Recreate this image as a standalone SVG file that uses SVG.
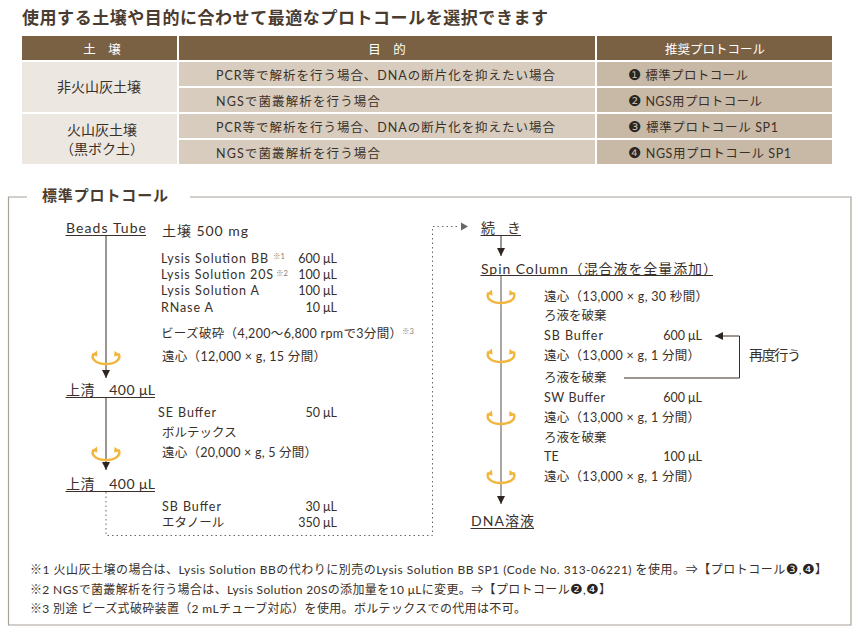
<svg xmlns="http://www.w3.org/2000/svg" xmlns:xlink="http://www.w3.org/1999/xlink" width="860" height="635" viewBox="0 0 860 635">
<style>
text{font-family:"Lato","Noto Sans CJK JP",sans-serif;font-size:12.5px;fill:#3a3029}
.t{fill:#4a3c30;font-weight:700;font-size:17px}
.h{fill:#fff;font-size:12.5px;text-anchor:middle}
.c{font-size:14px;text-anchor:middle}
.lab{font-size:14px}
.r{text-anchor:end}
.sup{font-size:7.5px;fill:#8a7d6c}
.n{font-size:12px}
.d{font-family:"DejaVu Sans",sans-serif;font-size:15px;fill:#2a2420}
.dn{font-family:"DejaVu Sans",sans-serif;font-size:14px;fill:#2a2420}
.hd{fill:#7a6144}.l{fill:#ece7e1}.m{fill:#d7ccbd}.p{fill:#c8b9a6}
.flow{stroke:#3a2e28;stroke-width:1;fill:none}
.ul{stroke:#3a3029;stroke-width:1;fill:none}
.dot{stroke:#6e6660;stroke-width:1;stroke-dasharray:1.5 3;fill:none}
.sp{stroke:#f2b63f;stroke-width:2.4;fill:none}
.sph{fill:#f2b63f}
</style>
<defs>
<g id="spin">
<path class="sp" d="M-12.500 -3.500C-16 3 -8 7 0 7C8 7 16 3 12.500 -3.500"/>
<path class="sph" d="M-14.500 -2L-9 -6.500L-8.500 -0.500Z"/>
<path class="sph" d="M14.500 -2L8.500 -6L8.200 -0.500Z"/>
</g>
<marker id="ah" markerWidth="10" markerHeight="10" refX="8" refY="4" orient="auto" markerUnits="userSpaceOnUse"><path d="M0 0L8 4L0 8Z" fill="#2e2420"/></marker>
</defs>

<text id="title" class="t" x="22" y="24" textLength="526" lengthAdjust="spacing">使用する土壌や目的に合わせて最適なプロトコールを選択できます</text>

<g id="table">
<rect class="hd" x="22" y="36" width="155" height="24"/>
<rect class="hd" x="179" y="36" width="416" height="24"/>
<rect class="hd" x="597" y="36" width="235" height="24"/>
<rect class="l" x="22" y="62" width="155" height="50"/>
<rect class="l" x="22" y="114" width="155" height="50"/>
<rect class="m" x="179" y="62" width="416" height="24"/>
<rect class="m" x="179" y="88" width="416" height="24"/>
<rect class="m" x="179" y="114" width="416" height="24"/>
<rect class="m" x="179" y="140" width="416" height="24"/>
<rect class="p" x="597" y="62" width="235" height="24"/>
<rect class="p" x="597" y="88" width="235" height="24"/>
<rect class="p" x="597" y="114" width="235" height="24"/>
<rect class="p" x="597" y="140" width="235" height="24"/>
<text class="h" x="102" y="54">土　壌</text>
<text class="h" x="387" y="54">目　的</text>
<text class="h" x="715" y="54">推奨プロトコール</text>
<text class="c" x="99" y="92">非火山灰土壌</text>
<text class="c" x="102" y="135">火山灰土壌</text>
<text class="c" x="102" y="154">（黒ボク土）</text>
<text x="216" y="80" textLength="339">PCR等で解析を行う場合、DNAの断片化を抑えたい場合</text>
<text x="216" y="106" textLength="164">NGSで菌叢解析を行う場合</text>
<text x="216" y="132" textLength="339">PCR等で解析を行う場合、DNAの断片化を抑えたい場合</text>
<text x="216" y="158" textLength="164">NGSで菌叢解析を行う場合</text>
<text x="628" y="79.500" textLength="120"><tspan class="d">❶</tspan> 標準プロトコール</text>
<text x="628" y="105.500" textLength="134"><tspan class="d">❷</tspan> NGS用プロトコール</text>
<text x="628" y="131.500" textLength="150"><tspan class="d">❸</tspan> 標準プロトコール SP1</text>
<text x="628" y="157.500" textLength="163"><tspan class="d">❹</tspan> NGS用プロトコール SP1</text>
</g>

<g id="frame">
<path d="M27 197H8.500V625H851V197H190" fill="none" stroke="#a8a298" stroke-width="1.200"/>
<text x="42" y="201" style="font-weight:700;font-size:15px;fill:#4a3c30" textLength="126">標準プロトコール</text>
</g>

<g id="connectors">
<path class="flow" d="M106 236V378" marker-end="url(#ah)"/>
<path class="flow" d="M106 397V470" marker-end="url(#ah)"/>
<path class="dot" d="M106 492V535.500H432.500V226.500H458"/>
<path d="M461 222.500L468 226.500L461 230.500Z" fill="#6e6660"/>
<path class="flow" d="M501 236V256" marker-end="url(#ah)"/>
<path class="flow" d="M501 276V504" style="stroke:#5a5048" marker-end="url(#ah)"/>
<path class="flow" d="M624 378H739.500V336H715" marker-end="url(#ah)"/>
<path class="ul" d="M65.500 235.500H146M65.500 397.500H155M65.500 491.500H155M480.500 235.500H521M480.500 275.500H713M470.500 528.500H534"/>
</g>

<g id="spins">
<use xlink:href="#spin" href="#spin" x="106" y="357"/>
<use xlink:href="#spin" href="#spin" x="106" y="453"/>
<use xlink:href="#spin" href="#spin" x="501" y="296"/>
<use xlink:href="#spin" href="#spin" x="501" y="355"/>
<use xlink:href="#spin" href="#spin" x="501" y="417"/>
<use xlink:href="#spin" href="#spin" x="501" y="476"/>
</g>

<g id="left-flow">
<text class="lab" x="66" y="233" textLength="80">Beads Tube</text>
<text class="lab" x="162" y="236" textLength="86">土壌 500 mg</text>
<text x="161" y="263" textLength="107">Lysis Solution BB</text><text class="sup" x="273" y="259">※1</text><text class="r" x="337" y="263">600 μL</text>
<text x="161" y="279" textLength="112">Lysis Solution 20S</text><text class="sup" x="276" y="276">※2</text><text class="r" x="337" y="279">100 μL</text>
<text x="161" y="295" textLength="98">Lysis Solution A</text><text class="r" x="337" y="295">100 μL</text>
<text x="161" y="312" textLength="52">RNase A</text><text class="r" x="337" y="312">10 μL</text>
<text x="161" y="338" textLength="241">ビーズ破砕（4,200～6,800 rpmで3分間）</text><text class="sup" x="402" y="334">※3</text>
<text x="162" y="361" textLength="164">遠心（12,000 × g, 15 分間）</text>
<text class="lab" x="66" y="395" textLength="89">上清　400 μL</text>
<text x="158" y="417" textLength="58">SE Buffer</text><text class="r" x="337" y="417">50 μL</text>
<text x="162" y="437">ボルテックス</text>
<text x="162" y="457" textLength="155">遠心（20,000 × g, 5 分間）</text>
<text class="lab" x="66" y="489" textLength="89">上清　400 μL</text>
<text x="162" y="511" textLength="59">SB Buffer</text><text class="r" x="337" y="511">30 μL</text>
<text x="162" y="527">エタノール</text><text class="r" x="337" y="527">350 μL</text>
</g>

<g id="right-flow">
<text class="lab" x="481" y="233" textLength="40">続　き</text>
<text class="lab" x="481" y="274" textLength="236">Spin Column（混合液を全量添加）</text>
<text x="544" y="301" textLength="164">遠心（13,000 × g, 30 秒間）</text>
<text x="544" y="320">ろ液を破棄</text>
<text x="544" y="340" textLength="59">SB Buffer</text><text class="r" x="702" y="340">600 μL</text>
<text x="544" y="360" textLength="156">遠心（13,000 × g, 1 分間）</text>
<text x="544" y="382">ろ液を破棄</text>
<text class="lab" x="749" y="360" textLength="52">再度行う</text>
<text x="544" y="402" textLength="61">SW Buffer</text><text class="r" x="702" y="402">600 μL</text>
<text x="544" y="422" textLength="156">遠心（13,000 × g, 1 分間）</text>
<text x="544" y="442">ろ液を破棄</text>
<text x="544" y="461">TE</text><text class="r" x="702" y="461">100 μL</text>
<text x="544" y="481" textLength="156">遠心（13,000 × g, 1 分間）</text>
<text class="lab" x="471" y="526" textLength="63">DNA溶液</text>
</g>

<g id="notes">
<text class="n" x="30" y="574" textLength="797">※1 火山灰土壌の場合は、Lysis Solution BBの代わりに別売のLysis Solution BB SP1 (Code No. 313-06221) を使用。⇒【プロトコール<tspan class="dn">❸</tspan>,<tspan class="dn">❹</tspan>】</text>
<text class="n" x="30" y="594" textLength="581">※2 NGSで菌叢解析を行う場合は、Lysis Solution 20Sの添加量を10 μLに変更。⇒【プロトコール<tspan class="dn">❷</tspan>,<tspan class="dn">❹</tspan>】</text>
<text class="n" x="30" y="613" textLength="496">※3 別途 ビーズ式破砕装置（2 mLチューブ対応）を使用。ボルテックスでの代用は不可。</text>
</g>
</svg>
